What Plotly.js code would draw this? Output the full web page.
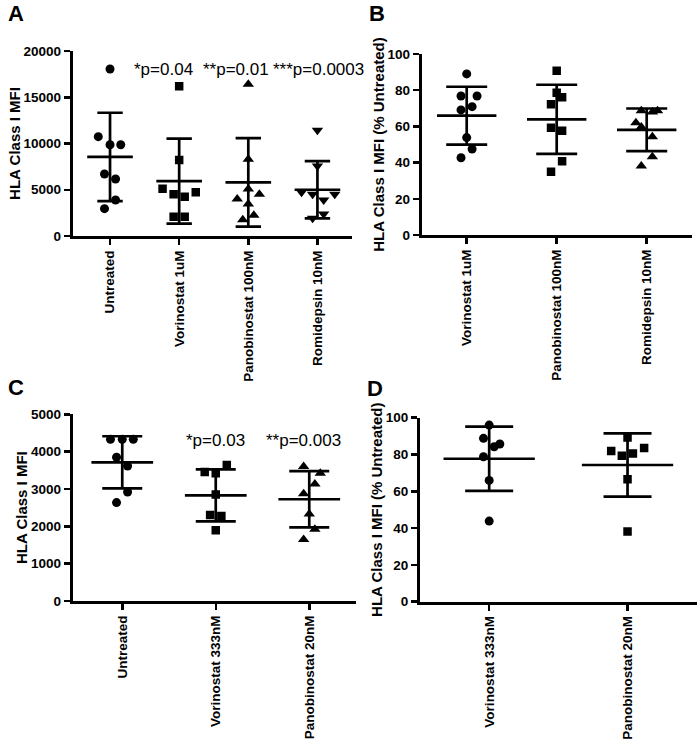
<!DOCTYPE html>
<html>
<head>
<meta charset="utf-8">
<script src="https://cdn.plot.ly/plotly-3.0.1.min.js"></script>
<style>html,body{margin:0;padding:0;background:#fff;}#chart{width:700px;height:742px;}</style>
</head>
<body>
<div id="chart"></div>
<script>
// ---------- Panel A ----------
const catsA = ["Untreated", "Vorinostat 1uM", "Panobinostat 100nM", "Romidepsin 10nM"];
const aUntreated = [18050, 10740, 9870, 9870, 6700, 6160, 3890, 2955];
const aVorinostat = [16180, 8220, 5120, 4720, 4500, 4250, 2090, 2090];
const aPanobinostat = [16400, 8290, 5080, 4000, 4500, 3460, 2230, 1770];
const aRomidepsin = [11420, 7570, 4720, 4500, 4500, 3890, 2380, 1910];
const aJitter = [
  [0, -0.17, 0, 0.155, -0.08, 0.08, 0.08, -0.08],
  [0, 0, -0.24, 0.24, -0.08, 0.08, -0.08, 0.08],
  [0, 0, 0, -0.16, 0.16, 0, 0.08, -0.08],
  [0, 0, -0.23, -0.07, 0.25, 0.09, 0.09, -0.07]
];
const aMean = [8550, 5930, 5800, 5000];
const aSD = [4775, 4595, 4790, 3100];
const aPvalues = ["*p=0.04", "**p=0.01", "***p=0.0003"];
const aPvalueX = [0.78, 1.82, 3.01];
const aPvalueY = 18050;

// ---------- Panel B ----------
const catsB = ["Vorinostat 1uM", "Panobinostat 100nM", "Romidepsin 10nM"];
const bVorinostat = [89.0, 76.8, 76.8, 69.1, 70.9, 53.8, 47.5, 42.7];
const bPanobinostat = [90.8, 78.6, 76.1, 72.2, 59.3, 57.6, 40.7, 35.0];
const bRomidepsin = [68.7, 68.0, 68.7, 62.0, 59.7, 54.3, 43.3, 38.1];
const bJitter = [
  [0, -0.063, 0.115, -0.063, 0.06, 0, 0.06, -0.063],
  [0, 0, 0.06, -0.063, -0.063, 0.06, 0.06, -0.063],
  [-0.06, 0.063, 0.12, -0.12, -0.06, 0.063, 0.063, -0.06]
];
const bMean = [65.9, 63.9, 58.1];
const bSD = [16.0, 19.1, 11.8];

// ---------- Panel C ----------
const catsC = ["Untreated", "Vorinostat 333nM", "Panobinostat 20nM"];
const cUntreated = [4330, 4330, 4330, 3850, 3615, 2920, 2635];
const cVorinostat = [3640, 3455, 3420, 2855, 2305, 2275, 1895];
const cPanobinostat = [3600, 3420, 3135, 2875, 2330, 1920, 1650];
const cJitter = [
  [-0.126, 0, 0.118, -0.061, 0.057, 0.057, -0.061],
  [0.118, -0.118, 0, 0, -0.06, 0.06, 0],
  [-0.06, 0.118, 0.06, -0.06, 0, 0.06, -0.06]
];
const cMean = [3715, 2830, 2725];
const cSD = [697, 697, 754];
const cPvalues = ["*p=0.03", "**p=0.003"];
const cPvalueX = [1.0, 1.94];
const cPvalueY = 4310;

// ---------- Panel D ----------
const catsD = ["Vorinostat 333nM", "Panobinostat 20nM"];
const dVorinostat = [96.0, 88.8, 84.2, 85.7, 78.8, 65.9, 43.8];
const dPanobinostat = [89.3, 81.9, 83.5, 79.3, 80.6, 66.5, 38.2];
const dJitter = [
  [0, -0.041, 0.036, 0.077, -0.041, 0, 0],
  [0, -0.118, 0.12, -0.041, 0.039, 0, 0]
];
const dMean = [77.7, 74.3];
const dSD = [17.5, 17.2];

// ---------- drawing ----------
const FONT = "Arial, 'Liberation Sans', sans-serif";
const traces = [];
const symbolsA = ["circle", "square", "triangle-up", "triangle-down"];
const sizeFor = {"circle": 9, "square": 8.5, "triangle-up": 10, "triangle-down": 10};

function addGroup(xa, ya, idx, values, jitter, mean, sd, symbol, capW) {
  traces.push({
    type: "scatter", mode: "markers", xaxis: xa, yaxis: ya,
    x: values.map((v, i) => idx + jitter[i]), y: values,
    marker: {symbol: symbol, size: sizeFor[symbol], color: "#000"},
    hoverinfo: "y", showlegend: false
  });
  traces.push({
    type: "scatter", mode: "markers", xaxis: xa, yaxis: ya,
    x: [idx], y: [mean],
    marker: {size: 0.1, color: "rgba(0,0,0,0)"},
    error_y: {type: "data", array: [sd], visible: true, color: "#000", thickness: 2.7, width: capW},
    error_x: {type: "data", array: [0.33], visible: true, color: "#000", thickness: 2.7, width: 0},
    hoverinfo: "skip", showlegend: false
  });
}

const groupsA = [aUntreated, aVorinostat, aPanobinostat, aRomidepsin];
groupsA.forEach((g, i) => addGroup("x", "y", i, g, aJitter[i], aMean[i], aSD[i], symbolsA[i], 12.7));
const groupsB = [bVorinostat, bPanobinostat, bRomidepsin];
const symbolsB = ["circle", "square", "triangle-up"];
groupsB.forEach((g, i) => addGroup("x2", "y2", i, g, bJitter[i], bMean[i], bSD[i], symbolsB[i], 20.5));
const groupsC = [cUntreated, cVorinostat, cPanobinostat];
const symbolsC = ["circle", "square", "triangle-up"];
groupsC.forEach((g, i) => addGroup("x3", "y3", i, g, cJitter[i], cMean[i], cSD[i], symbolsC[i], 20));
const groupsD = [dVorinostat, dPanobinostat];
const symbolsD = ["circle", "square"];
groupsD.forEach((g, i) => addGroup("x4", "y4", i, g, dJitter[i], dMean[i], dSD[i], symbolsD[i], 24));

const tickFont = {family: FONT, size: 13.5, color: "#000", weight: "bold"};
const titleFont = {family: FONT, size: 15, color: "#000", weight: "bold"};

function xAxis(domain, cats, range, anchor) {
  return {
    domain: domain, anchor: anchor, range: range, fixedrange: true,
    tickmode: "array", tickvals: cats.map((c, i) => i), ticktext: cats,
    tickangle: -90, ticks: "outside", ticklen: 6, tickwidth: 2.5, tickcolor: "#000",
    showline: true, linewidth: 3, linecolor: "#000", showgrid: false, zeroline: false,
    tickfont: tickFont
  };
}
function yAxis(domain, range, dtick, title, anchor, standoff) {
  return {
    domain: domain, anchor: anchor, range: range, fixedrange: true,
    tick0: 0, dtick: dtick, ticks: "outside", ticklen: 6, tickwidth: 2.5, tickcolor: "#000",
    showline: true, linewidth: 3, linecolor: "#000", showgrid: false, zeroline: false,
    tickfont: tickFont, tickformat: "d",
    title: {text: title, font: titleFont, standoff: standoff}
  };
}

const annotations = [];
aPvalues.forEach((t, i) => annotations.push({
  xref: "x", yref: "y", x: aPvalueX[i], y: aPvalueY, text: t, showarrow: false,
  font: {family: FONT, size: 17, color: "#000"}, xanchor: "center", yanchor: "middle"
}));
cPvalues.forEach((t, i) => annotations.push({
  xref: "x3", yref: "y3", x: cPvalueX[i], y: cPvalueY, text: t, showarrow: false,
  font: {family: FONT, size: 17, color: "#000"}, xanchor: "center", yanchor: "middle"
}));
const letters = [["A", 16, 14], ["B", 377, 14], ["C", 16, 387], ["D", 375, 388]];
letters.forEach(l => annotations.push({
  xref: "paper", yref: "paper", x: l[1] / 700, y: 1 - l[2] / 742, text: l[0], showarrow: false,
  font: {family: FONT, size: 22, color: "#000", weight: "bold"}, xanchor: "center", yanchor: "middle"
}));

const layout = {
  width: 700, height: 742,
  margin: {l: 0, r: 0, t: 0, b: 0},
  paper_bgcolor: "#fff", plot_bgcolor: "#fff",
  showlegend: false,
  xaxis: xAxis([72.7 / 700, 352 / 700], catsA, [-0.54, 3.5], "y"),
  yaxis: yAxis([1 - 236 / 742, 1 - 51 / 742], [0, 20000], 5000, "HLA Class I MFI", "x", 0),
  xaxis2: xAxis([421.7 / 700, 691.7 / 700], catsB, [-0.5, 2.5], "y2"),
  yaxis2: yAxis([1 - 235 / 742, 1 - 54 / 742], [0, 100], 20, "HLA Class I MFI (% Untreated)", "x2", 0),
  xaxis3: xAxis([72.7 / 700, 356 / 700], catsC, [-0.53, 2.5], "y3"),
  yaxis3: yAxis([1 - 601 / 742, 1 - 414.3 / 742], [0, 5000], 1000, "HLA Class I MFI", "x3", 0),
  xaxis4: xAxis([420 / 700, 696.7 / 700], catsD, [-0.5, 1.5], "y4"),
  yaxis4: yAxis([1 - 601.7 / 742, 1 - 417.7 / 742], [0, 100], 20, "HLA Class I MFI (% Untreated)", "x4", 0),
  annotations: annotations
};

Plotly.newPlot("chart", traces, layout, {staticPlot: true, displayModeBar: false});
</script>
</body>
</html>
